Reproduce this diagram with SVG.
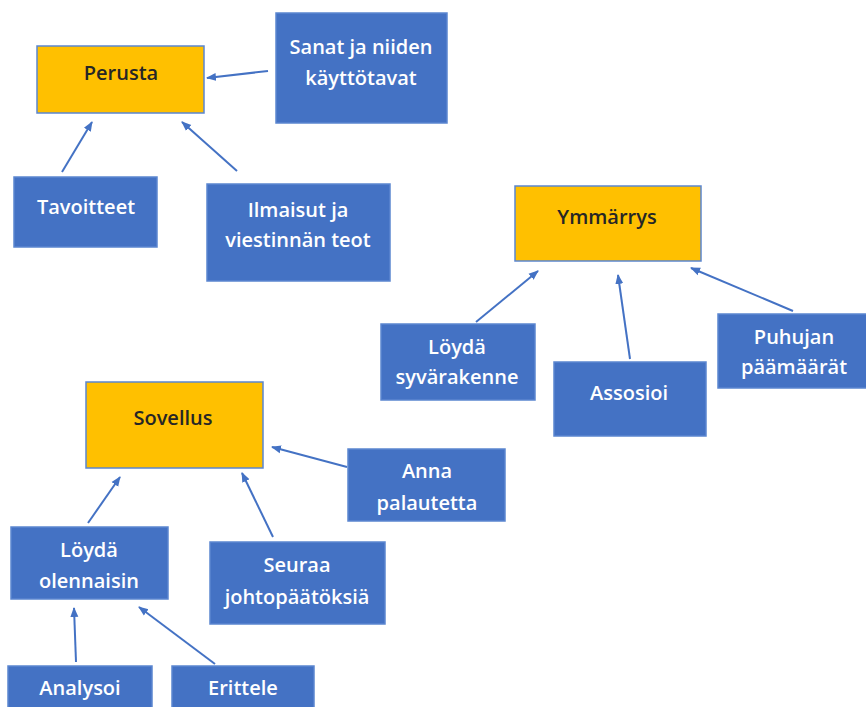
<svg xmlns="http://www.w3.org/2000/svg" width="866" height="707" viewBox="0 0 866 707">
<style>
.b{fill:#4472C4;stroke:#5B86D0;stroke-width:1.5}
.y{fill:#FFC000;stroke:#5B86D0;stroke-width:1.5}
.t{font-family:"Open Sans","Liberation Sans",sans-serif;font-size:20px;font-weight:600;text-anchor:middle}
.w{fill:#FFFFFF}
.d{fill:#262626}
.c{stroke:#4472C4;stroke-width:2;fill:none;marker-end:url(#ah)}
</style>
<defs>
<marker id="ah" markerUnits="userSpaceOnUse" markerWidth="10" markerHeight="10" viewBox="0 0 10 10" refX="9" refY="5" orient="auto">
<path d="M0,1 L10,5 L0,9 Z" fill="#4472C4"/>
</marker>
</defs>
<rect width="866" height="707" fill="#FFFFFF"/>
<g id="connectors">
<line class="c" x1="268" y1="71" x2="207" y2="78"/>
<line class="c" x1="62" y1="172" x2="92" y2="122"/>
<line class="c" x1="237" y1="171" x2="182" y2="122"/>
<line class="c" x1="476" y1="322" x2="538" y2="271"/>
<line class="c" x1="630" y1="359" x2="618" y2="275"/>
<line class="c" x1="793" y1="311" x2="691" y2="268"/>
<line class="c" x1="347" y1="467" x2="272" y2="447"/>
<line class="c" x1="88" y1="523" x2="120" y2="477"/>
<line class="c" x1="273" y1="537" x2="242" y2="473"/>
<line class="c" x1="76" y1="662" x2="74" y2="608"/>
<line class="c" x1="215" y1="664" x2="139" y2="607"/>
</g>
<g id="perusta"><rect class="y" x="37" y="46" width="167" height="67"/><text class="t d" x="121" y="80">Perusta</text></g>
<g id="sanat"><rect class="b" x="276" y="13" width="171" height="110"/><text class="t w" x="361" y="54">Sanat ja niiden</text><text class="t w" x="361" y="85">käyttötavat</text></g>
<g id="tavoitteet"><rect class="b" x="14" y="177" width="143" height="70"/><text class="t w" x="86" y="214">Tavoitteet</text></g>
<g id="ilmaisut"><rect class="b" x="207" y="184" width="183" height="97"/><text class="t w" x="298" y="217">Ilmaisut ja</text><text class="t w" x="298" y="247">viestinnän teot</text></g>
<g id="ymmarrys"><rect class="y" x="515" y="186" width="186" height="75"/><text class="t d" x="607" y="224">Ymmärrys</text></g>
<g id="syvarakenne"><rect class="b" x="381" y="324" width="154" height="76"/><text class="t w" x="457" y="354">Löydä</text><text class="t w" x="457" y="384">syvärakenne</text></g>
<g id="assosioi"><rect class="b" x="554" y="362" width="152" height="74"/><text class="t w" x="629" y="400">Assosioi</text></g>
<g id="puhujan"><rect class="b" x="718" y="314" width="150" height="74"/><text class="t w" x="794" y="344">Puhujan</text><text class="t w" x="794" y="374">päämäärät</text></g>
<g id="sovellus"><rect class="y" x="86" y="382" width="177" height="86"/><text class="t d" x="173" y="425">Sovellus</text></g>
<g id="anna"><rect class="b" x="348" y="449" width="157" height="72"/><text class="t w" x="427" y="478">Anna</text><text class="t w" x="427" y="510">palautetta</text></g>
<g id="olennaisin"><rect class="b" x="11" y="527" width="157" height="72"/><text class="t w" x="89" y="557">Löydä</text><text class="t w" x="89" y="588">olennaisin</text></g>
<g id="seuraa"><rect class="b" x="210" y="542" width="175" height="82"/><text class="t w" x="297" y="572">Seuraa</text><text class="t w" x="297" y="604">johtopäätöksiä</text></g>
<g id="analysoi"><rect class="b" x="8" y="666" width="144" height="45"/><text class="t w" x="80" y="695">Analysoi</text></g>
<g id="erittele"><rect class="b" x="172" y="666" width="142" height="45"/><text class="t w" x="243" y="695">Erittele</text></g>
</svg>
